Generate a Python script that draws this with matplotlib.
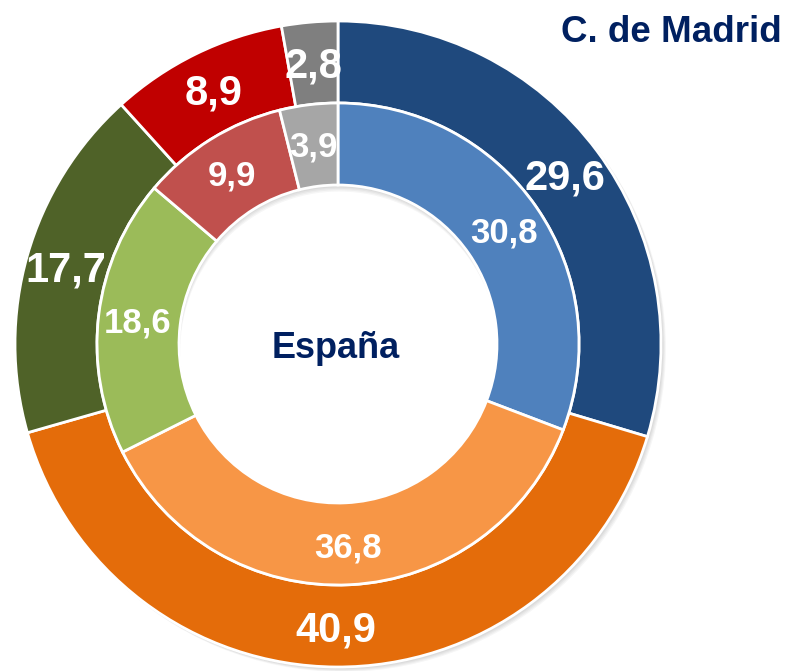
import numpy as np
import matplotlib
matplotlib.use("Agg")
import matplotlib.pyplot as plt
from matplotlib.patches import Wedge

# Share of each category (%), outer ring = C. de Madrid, inner ring = España
madrid_values = [29.6, 40.9, 17.7, 8.9, 2.8]
espana_values = [30.8, 36.8, 18.6, 9.9, 3.9]
madrid_labels = ["29,6", "40,9", "17,7", "8,9", "2,8"]
espana_labels = ["30,8", "36,8", "18,6", "9,9", "3,9"]

madrid_colors = ["#1F497D", "#E46C0A", "#4F6228", "#C00000", "#7F7F7F"]
espana_colors = ["#4F81BD", "#F79646", "#9BBB59", "#C0504D", "#A6A6A6"]

W, H = 786, 671
cx, cy = 338, 344
R_OUT, R_MID, R_HOLE = 323, 241, 159
FONT = "Liberation Sans"
NAVY = "#002060"

fig = plt.figure(figsize=(W / 100, H / 100), dpi=100)
ax = fig.add_axes([0, 0, 1, 1])

# soft drop shadows under both rings
for i in range(5):
    off = 0.8 + i * 0.9
    ax.add_patch(Wedge((off, -off), R_OUT + 0.5, 0, 360, width=R_OUT - R_MID,
                       color="black", alpha=0.035, lw=0, zorder=0))
    ax.add_patch(Wedge((0.3 * off, -1.5 * off), R_MID, 0, 360, width=R_MID - R_HOLE,
                       color="black", alpha=0.035, lw=0, zorder=0))

wedge_kw = dict(edgecolor="white", linewidth=2)
outer, _ = ax.pie(madrid_values, radius=R_OUT, colors=madrid_colors, startangle=90,
                  counterclock=False,
                  wedgeprops=dict(width=R_OUT - R_MID, **wedge_kw))
inner, _ = ax.pie(espana_values, radius=R_MID, colors=espana_colors, startangle=90,
                  counterclock=False,
                  wedgeprops=dict(width=R_MID - R_HOLE, **wedge_kw))


def label_ring(wedges, labels, r_label, size_pt):
    # digits are centred visually on the ring's mid radius
    px = size_pt * 100 / 72
    for w, lab in zip(wedges, labels):
        ang = np.deg2rad((w.theta1 + w.theta2) / 2)
        x, y = r_label * np.cos(ang), r_label * np.sin(ang)
        ax.text(x, y - 0.358 * px, lab, color="white", fontsize=size_pt,
                fontweight="bold", family=FONT, ha="center", va="baseline", zorder=5)


label_ring(outer, madrid_labels, (R_OUT + R_MID) / 2 + 1, 30)
label_ring(inner, espana_labels, (R_MID + R_HOLE) / 2 + 1.5, 25)

ax.text(336 - cx, cy - 358, "España", color=NAVY, fontsize=26, fontweight="bold",
        family=FONT, ha="center", va="baseline")
ax.text(782 - cx, cy - 42, "C. de Madrid", color=NAVY, fontsize=26.5,
        fontweight="bold", family=FONT, ha="right", va="baseline")

ax.set_xlim(-cx, W - cx)
ax.set_ylim(-(H - cy), cy)
ax.set_aspect("equal")
ax.axis("off")

fig.savefig("out.png", dpi=100)
